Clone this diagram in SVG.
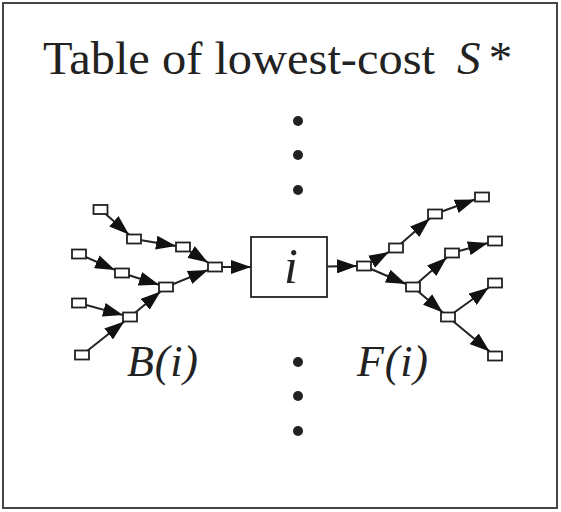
<svg xmlns="http://www.w3.org/2000/svg" width="561" height="512" viewBox="0 0 561 512">
<style>
text{fill:#222;font-family:"Liberation Serif",serif}
.it{font-style:italic}
.b{fill:#fff;stroke:#222;stroke-width:1.8}
.e{stroke:#222;stroke-width:2;fill:none}
.d{fill:#222}
</style>
<defs>
<marker id="ah" markerUnits="userSpaceOnUse" viewBox="0 0 20 14" markerWidth="20" markerHeight="14" refX="20" refY="7" orient="auto">
<path d="M0,0 L20,7 L0,14 Z" fill="#111"/>
</marker>
</defs>
<rect x="3" y="3" width="554" height="505" fill="none" stroke="#444" stroke-width="2"/>
<text x="43" y="74" font-size="47" textLength="392" lengthAdjust="spacingAndGlyphs">Table of lowest-cost</text>
<text class="it" x="457" y="74" font-size="47" textLength="53" lengthAdjust="spacing">S*</text>
<g id="dots">
<circle class="d" cx="298" cy="121" r="5"/>
<circle class="d" cx="298" cy="155" r="5"/>
<circle class="d" cx="298" cy="190" r="5"/>
<circle class="d" cx="298" cy="362" r="5"/>
<circle class="d" cx="298" cy="396" r="5"/>
<circle class="d" cx="298" cy="431" r="5"/>
</g>
<g id="connectors">
<line class="e" marker-end="url(#ah)" x1="100.5" y1="209.5" x2="128.9" y2="234.5"/>
<line class="e" marker-end="url(#ah)" x1="134" y1="239" x2="176" y2="245.9"/>
<line class="e" marker-end="url(#ah)" x1="183" y1="247" x2="208" y2="262.6"/>
<line class="e" marker-end="url(#ah)" x1="79" y1="254" x2="115" y2="269.9"/>
<line class="e" marker-end="url(#ah)" x1="122" y1="273" x2="159" y2="284.8"/>
<line class="e" marker-end="url(#ah)" x1="166" y1="287" x2="208" y2="269.9"/>
<line class="e" marker-end="url(#ah)" x1="79" y1="303" x2="123" y2="315.1"/>
<line class="e" marker-end="url(#ah)" x1="130" y1="317" x2="160.6" y2="291.5"/>
<line class="e" marker-end="url(#ah)" x1="82" y1="355" x2="124.3" y2="321.5"/>
<line class="e" marker-end="url(#ah)" x1="215" y1="267" x2="251" y2="267"/>
<line class="e" marker-end="url(#ah)" x1="327" y1="266.5" x2="357" y2="266"/>
<line class="e" marker-end="url(#ah)" x1="364" y1="266" x2="389" y2="251.9"/>
<line class="e" marker-end="url(#ah)" x1="396" y1="248" x2="429.8" y2="218.5"/>
<line class="e" marker-end="url(#ah)" x1="435" y1="214" x2="475" y2="199.5"/>
<line class="e" marker-end="url(#ah)" x1="364" y1="266" x2="406" y2="284"/>
<line class="e" marker-end="url(#ah)" x1="413" y1="287" x2="446.8" y2="257.5"/>
<line class="e" marker-end="url(#ah)" x1="452" y1="253" x2="488" y2="243"/>
<line class="e" marker-end="url(#ah)" x1="413" y1="287" x2="442.8" y2="312.5"/>
<line class="e" marker-end="url(#ah)" x1="448" y1="317" x2="488.8" y2="287.5"/>
<line class="e" marker-end="url(#ah)" x1="448" y1="317" x2="489.6" y2="351.5"/>
</g>
<g id="nodeA"><rect class="b" x="93.5" y="205" width="14" height="9"/></g>
<g id="nodeB"><rect class="b" x="127" y="234.5" width="14" height="9"/></g>
<g id="nodeC"><rect class="b" x="176" y="242.5" width="14" height="9"/></g>
<g id="nodeD"><rect class="b" x="208" y="262.5" width="14" height="9"/></g>
<g id="nodeE"><rect class="b" x="72" y="249.5" width="14" height="9"/></g>
<g id="nodeF"><rect class="b" x="115" y="268.5" width="14" height="9"/></g>
<g id="nodeG"><rect class="b" x="159" y="282.5" width="14" height="9"/></g>
<g id="nodeH"><rect class="b" x="72" y="298.5" width="14" height="9"/></g>
<g id="nodeI"><rect class="b" x="123" y="312.5" width="14" height="9"/></g>
<g id="nodeJ"><rect class="b" x="75" y="350.5" width="14" height="9"/></g>
<g id="node-i"><rect class="b" x="251" y="237" width="76" height="60"/><text class="it" x="291" y="283" font-size="50" text-anchor="middle">i</text></g>
<g id="nodeP"><rect class="b" x="357" y="261.5" width="14" height="9"/></g>
<g id="nodeQ"><rect class="b" x="389" y="243.5" width="14" height="9"/></g>
<g id="nodeR"><rect class="b" x="428" y="209.5" width="14" height="9"/></g>
<g id="nodeS"><rect class="b" x="475" y="192.5" width="14" height="9"/></g>
<g id="nodeT"><rect class="b" x="406" y="282.5" width="14" height="9"/></g>
<g id="nodeU"><rect class="b" x="445" y="248.5" width="14" height="9"/></g>
<g id="nodeV"><rect class="b" x="488" y="236.5" width="14" height="9"/></g>
<g id="nodeW"><rect class="b" x="441" y="312.5" width="14" height="9"/></g>
<g id="nodeX"><rect class="b" x="488" y="278.5" width="14" height="9"/></g>
<g id="nodeY"><rect class="b" x="488" y="351.5" width="14" height="9"/></g>
<text class="it" x="127" y="376" font-size="44" textLength="71" lengthAdjust="spacing">B(i)</text>
<text class="it" x="357" y="376" font-size="44" textLength="71" lengthAdjust="spacing">F(i)</text>
</svg>
